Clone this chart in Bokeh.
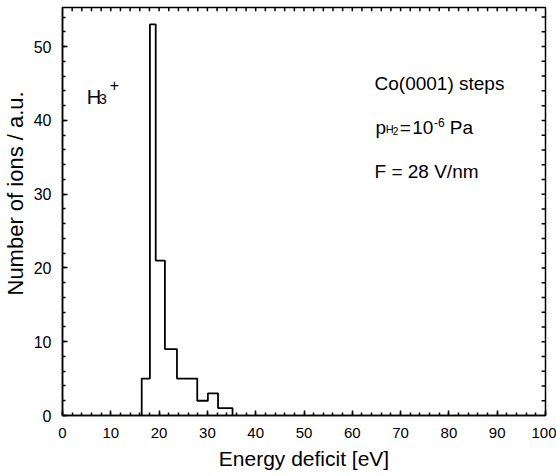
import numpy as np
from bokeh.plotting import figure
from bokeh.models import Range1d, SingleIntervalTicker, Label, Title
from bokeh.embed import file_html
from bokeh.resources import INLINE

# Histogram data (energy deficit bins in eV, counts in a.u.)
bin_edges = [16.4, 18.1, 19.3, 21.2, 23.7, 27.9, 30.1, 32.2, 35.2]
counts = [5, 53, 21, 9, 5, 2, 3, 1]

x_range = (0, 100)
y_range = (0, 55.3)
tick_interval = 10
minor_interval = 2

x_title = "Energy deficit [eV]"
y_title = "Number of ions / a.u."

FONT = "Liberation Sans"

step_x = [bin_edges[0]] + bin_edges
step_y = [0] + counts + [0]

p = figure(width=556, height=476,
           x_range=Range1d(*x_range), y_range=Range1d(*y_range),
           output_backend="svg", toolbar_location=None,
           min_border_left=62, min_border_right=11,
           min_border_top=7, min_border_bottom=61)

p.xgrid.visible = False
p.ygrid.visible = False
p.outline_line_color = "black"
p.outline_line_width = 1.5
p.background_fill_color = "white"
p.border_fill_color = "white"

p.step(step_x, step_y, mode="after", line_color="black", line_width=1.8)

# mirrored inward ticks on top and right frame edges
tx = np.arange(x_range[0] + minor_interval, x_range[1], minor_interval)
ty = np.arange(y_range[0] + minor_interval, y_range[1], minor_interval)
tick_len_y = 0.5
tick_len_x = 0.8
p.segment(x0=tx, x1=tx, y0=[y_range[1]] * len(tx), y1=[y_range[1] - tick_len_y] * len(tx),
          line_color="black", line_width=1.5)
p.segment(x0=[x_range[1]] * len(ty), x1=[x_range[1] - tick_len_x] * len(ty), y0=ty, y1=ty,
          line_color="black", line_width=1.5)

def style_axis(ax, size):
    ax.axis_line_color = "black"
    ax.axis_line_width = 1.5
    ax.major_tick_in = 5
    ax.major_tick_out = 0
    ax.minor_tick_in = 3
    ax.minor_tick_out = 0
    ax.major_tick_line_color = "black"
    ax.minor_tick_line_color = "black"
    ax.major_tick_line_width = 1.5
    ax.minor_tick_line_width = 1.5
    ax.major_label_text_font = FONT
    ax.major_label_text_font_size = size
    ax.major_label_text_color = "black"
    ax.axis_label_text_font = FONT
    ax.axis_label_text_font_size = "21px"
    ax.axis_label_text_font_style = "normal"
    ax.axis_label_text_color = "black"

p.xaxis.ticker = SingleIntervalTicker(interval=tick_interval, num_minor_ticks=5)
p.yaxis.ticker = SingleIntervalTicker(interval=tick_interval, num_minor_ticks=5)
p.xaxis.axis_label = x_title
style_axis(p.xaxis[0], "15px")
style_axis(p.yaxis[0], "16px")
p.xaxis.major_label_standoff = 12
p.xaxis.axis_label_standoff = 6
p.yaxis.major_label_standoff = 11

# y axis title, placed as a left-side title so it can sit slightly above centre
p.add_layout(Title(text=y_title, align="left", offset=120, standoff=3,
                   vertical_align="middle", text_font=FONT,
                   text_font_size="22px", text_font_style="normal",
                   text_color="black"), "left")

def add_label(text, x, y, size, **kw):
    p.add_layout(Label(x=x, y=y, text=text, text_font=FONT,
                       text_font_size=size, text_color="black",
                       text_baseline="alphabetic", **kw))

# H3+ ion label
add_label("H", 5.0, 43.14, "20px")
add_label("3", 7.56, 42.93, "14px")
add_label("+", 9.77, 44.78, "16px")

# Conditions
add_label("Co(0001) steps", 64.6, 44.95, "19px")
add_label("p", 64.8, 39.05, "19px")
add_label("H", 66.9, 38.86, "11px")
add_label("2", 68.4, 38.53, "10px")
add_label("=", 69.8, 39.05, "19px")
add_label("10", 72.4, 39.05, "19px")
add_label("-6", 76.9, 39.75, "12px")
add_label("Pa", 80.2, 39.05, "19px")
add_label("F = 28 V/nm", 64.6, 33.1, "19px")

open("out.html", "w").write(file_html(p, INLINE))
